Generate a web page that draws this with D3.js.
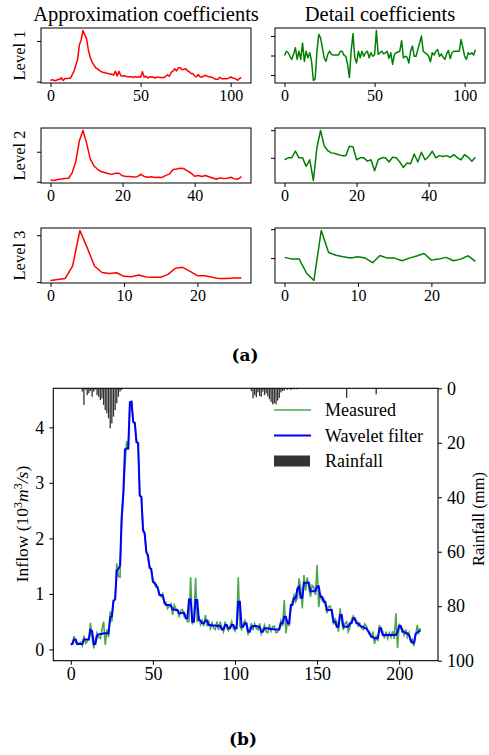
<!DOCTYPE html>
<html>
<head>
<meta charset="utf-8">
<script src="https://cdn.jsdelivr.net/npm/d3@7"></script>
<style>
  body { margin: 0; background: #fff; }
  svg text { font-family: "Liberation Serif", "Times New Roman", serif; }
</style>
</head>
<body>
<script>
// ---- (a) wavelet coefficients ----
const approx1 = [0.14,0.25,0.14,0.14,0.25,0.25,0.48,0.14,0.37,0.40,
  0.41,0.41,0.83,1.26,2.02,2.69,4.52,5.12,6.29,5.78,
  5.26,3.90,3.00,2.43,2.06,1.71,1.60,1.39,1.27,1.13,
  1.13,1.02,1.00,0.92,0.93,0.79,1.27,0.71,1.26,0.74,
  0.66,0.74,0.62,0.61,0.61,0.59,0.51,0.62,0.54,0.62,
  0.54,1.22,0.58,0.66,0.45,0.58,0.59,0.58,0.45,0.54,
  0.54,0.52,0.51,0.51,0.66,0.83,0.66,1.13,1.30,1.58,
  1.32,1.70,1.70,1.48,1.48,1.61,1.34,1.22,1.00,1.00,
  0.71,0.58,0.88,0.58,0.58,0.66,0.79,0.66,0.59,0.57,
  0.51,0.35,0.28,0.28,0.54,0.37,0.37,0.37,0.37,0.42,
  0.59,0.45,0.41,0.31,0.17,0.41,0.48];
const approx2 = [0.28,0.20,0.36,0.44,0.54,0.58,1.48,3.33,6.82,8.54,
  6.48,3.84,2.67,2.11,1.70,1.52,1.36,1.22,1.40,1.41,
  0.99,0.87,0.85,0.80,0.82,1.24,0.88,0.73,0.83,0.70,
  0.75,0.72,1.06,1.27,2.04,2.13,2.25,2.19,1.81,1.42,
  0.91,1.03,0.88,1.03,0.82,0.61,0.40,0.64,0.52,0.56,
  0.74,0.51,0.41,0.85];
const approx3 = [0.34,0.57,0.79,3.40,11.0,7.30,3.38,2.04,1.85,1.99,1.22,1.15,1.50,1.10,
  1.03,1.04,1.65,2.95,3.14,2.28,1.37,1.35,1.01,0.74,0.76,0.88,0.89];
const detail1 = [0.00,0.11,0.07,-0.02,-0.10,0.03,0.20,-0.10,0.11,-0.10,
  0.32,-0.15,0.11,-0.06,0.07,-0.15,-0.64,-0.60,0.11,0.54,
  0.45,0.20,-0.06,-0.15,0.03,0.11,0.03,0.01,0.01,0.01,
  0.01,0.11,0.11,0.01,-0.02,-0.23,-0.56,0.11,0.56,-0.06,
  -0.19,0.11,-0.06,0.11,-0.02,0.07,0.11,-0.06,0.07,-0.02,
  0.02,0.64,0.03,0.07,0.11,0.04,0.07,0.11,-0.08,0.07,
  -0.23,0.03,0.07,0.09,0.11,0.38,-0.06,-0.02,-0.04,-0.19,
  0.11,0.24,-0.02,-0.02,0.15,0.32,0.50,0.11,0.07,0.04,
  -0.02,-0.16,0.07,0.01,0.11,0.15,-0.02,0.04,-0.04,-0.10,
  0.04,0.13,-0.08,0.07,0.11,0.11,0.11,0.11,0.41,0.20,
  -0.02,-0.10,0.07,0.03,0.07,0.01,0.15];
const detail2 = [-0.07,0.00,0.00,0.24,0.00,0.00,-0.31,-0.07,-0.82,0.38,
  0.99,0.44,0.26,0.18,0.16,0.11,0.08,0.08,0.42,0.40,
  -0.07,0.00,0.00,-0.12,-0.07,-0.47,-0.07,0.00,0.00,-0.15,
  0.02,0.00,-0.15,-0.35,-0.19,-0.21,0.14,-0.15,0.20,-0.07,
  0.05,0.24,0.00,0.08,0.05,0.08,0.02,0.12,0.00,-0.07,
  0.12,0.02,-0.12,0.02];
const detail3 = [0.05,-0.07,-0.07,-1.05,-1.55,1.91,0.39,0.20,0.09,0.00,0.09,0.00,-0.32,0.18,
  0.00,0.00,-0.18,0.00,0.14,0.32,-0.14,-0.07,0.05,-0.18,-0.07,0.16,-0.23];

const levelNames = ["Level 1", "Level 2", "Level 3"];
const levelXTicks = [[0, 50, 100], [0, 20, 40], [0, 10, 20]];
const approxYTicks = [[0, 5], [0, 5], [0, 10]];
const detailYTicks = [[-0.5, 0, 0.5], [-1, 0, 1], [-2, 0, 2]];

// ---- (b) inflow (10^3 m3/s) and rainfall (mm) per day ----
const measured = [0.08,0.12,0.24,0.12,0.09,0.11,0.13,0.07,0.25,0.11,
  0.14,0.22,0.48,0.20,0.02,0.18,0.30,0.22,0.20,0.36,
  0.50,0.08,0.36,0.22,0.68,0.50,0.86,0.92,1.55,1.31,
  1.30,2.45,2.75,3.30,3.75,3.60,4.40,4.48,4.10,4.05,
  3.78,3.68,2.80,2.72,2.20,2.05,1.78,1.63,1.50,1.42,
  1.26,1.17,1.12,1.13,1.00,0.95,1.00,0.82,0.85,0.74,
  0.78,0.82,0.62,0.80,0.74,0.68,0.60,0.70,0.72,0.60,
  0.62,0.50,0.50,1.30,0.45,0.55,1.29,0.49,0.60,0.45,
  0.52,0.42,0.62,0.42,0.50,0.38,0.48,0.38,0.36,0.50,
  0.35,0.50,0.40,0.32,0.50,0.38,0.34,0.42,0.50,0.38,
  0.33,0.43,1.30,0.42,0.36,0.46,0.52,0.42,0.28,0.36,
  0.47,0.35,0.46,0.38,0.35,0.47,0.28,0.36,0.44,0.32,
  0.30,0.45,0.33,0.41,0.42,0.30,0.31,0.41,0.52,0.42,
  0.89,0.29,0.52,0.42,0.72,0.88,0.98,0.86,0.92,1.28,
  1.12,0.74,1.34,1.06,1.30,1.10,0.95,1.15,1.12,0.98,
  1.52,0.76,1.00,0.90,0.92,0.80,0.65,0.77,0.78,0.64,
  0.45,0.55,0.50,0.32,0.74,0.50,0.35,0.47,0.50,0.32,
  0.40,0.54,0.60,0.52,0.52,0.42,0.47,0.39,0.36,0.46,
  0.42,0.34,0.32,0.24,0.30,0.10,0.25,0.15,0.44,0.32,
  0.32,0.20,0.32,0.20,0.30,0.22,0.33,0.19,0.65,0.02,
  0.46,0.38,0.38,0.26,0.36,0.22,0.30,0.14,0.18,0.06,
  0.24,0.44,0.30,0.38];
const filtered = [0.10,0.10,0.18,0.18,0.10,0.10,0.10,0.10,0.18,0.18,
  0.18,0.18,0.35,0.33,0.10,0.10,0.25,0.27,0.28,0.28,
  0.29,0.29,0.29,0.29,0.58,0.60,0.88,0.90,1.42,1.45,
  1.51,2.35,2.82,3.60,3.62,3.62,4.45,4.46,4.10,4.08,
  3.73,3.72,2.77,2.75,2.14,2.10,1.75,1.70,1.47,1.45,
  1.22,1.20,1.16,1.10,0.98,0.98,0.97,0.85,0.80,0.80,
  0.80,0.79,0.72,0.72,0.71,0.71,0.65,0.65,0.66,0.66,
  0.56,0.56,0.90,0.90,0.50,0.50,0.89,0.89,0.53,0.52,
  0.47,0.47,0.52,0.52,0.44,0.44,0.43,0.43,0.43,0.42,
  0.43,0.42,0.36,0.36,0.44,0.44,0.38,0.38,0.44,0.44,
  0.38,0.38,0.86,0.86,0.41,0.41,0.47,0.47,0.32,0.32,
  0.40,0.42,0.42,0.42,0.41,0.41,0.32,0.32,0.38,0.38,
  0.38,0.37,0.37,0.37,0.36,0.36,0.36,0.36,0.47,0.47,
  0.59,0.59,0.47,0.47,0.80,0.80,0.92,0.92,1.10,1.13,
  0.93,0.93,1.20,1.20,1.20,1.20,1.05,1.05,1.05,1.05,
  1.14,1.14,0.95,0.95,0.86,0.86,0.71,0.71,0.71,0.71,
  0.50,0.50,0.41,0.41,0.62,0.62,0.41,0.41,0.41,0.41,
  0.47,0.47,0.56,0.56,0.47,0.47,0.43,0.41,0.41,0.38,
  0.38,0.33,0.28,0.23,0.22,0.20,0.20,0.20,0.38,0.38,
  0.26,0.26,0.26,0.26,0.26,0.26,0.26,0.26,0.26,0.32,
  0.42,0.42,0.32,0.32,0.29,0.29,0.26,0.17,0.12,0.12,
  0.28,0.30,0.33,0.34];
const rainDay = [7,8,9,10,11,12,13,14,15,16,17,18,19,20,21,22,23,24,25,26,27,28,29,30,31,
  110,111,112,113,114,115,116,117,118,119,120,121,122,123,124,125,126,127,128,129,130,132,134,136,138,
  168,186];
const rainMM = [1.2,6.1,0.5,2.5,1.8,1.0,3.1,1.2,0.5,2.5,3.1,4.3,3.7,6.1,8.0,9.2,11.0,14.7,12.9,10.4,8.0,5.5,3.1,1.2,0.6,
  1.0,3.7,2.5,3.3,1.5,2.8,3.1,1.2,2.5,1.8,3.0,4.0,5.0,5.9,5.5,5.9,4.5,3.5,1.5,1.0,0.8,0.6,0.6,0.4,0.4,
  3.5,2.2];

const dayTicks = [0, 50, 100, 150, 200];
const inflowTicks = [0, 1, 2, 3, 4];
const rainTicks = [0, 20, 40, 60, 80, 100];
const legendNames = ["Measured", "Wavelet filter", "Rainfall"];

const serif = '"Liberation Serif", "Times New Roman", serif';

let svg = d3.select("body").append("svg")
  .attr("width", 489)
  .attr("height", 755)
  .style("background-color", "#fff");

function inside(ticks, scale) {
  let [a, b] = scale.domain();
  return ticks.filter(t => t >= Math.min(a, b) && t <= Math.max(a, b));
}

// axis helper: no domain line, serif labels
function styleAxis(g, size) {
  g.select(".domain").remove();
  g.selectAll("text").style("font-family", serif).style("font-size", size + "px");
  return g;
}

// one small coefficient plot, matplotlib style (5% margins)
function panel(data, left, top, color, xTicks, yTicks) {
  let w = 210, h = 55, n = data.length;
  let x = d3.scaleLinear().domain([-0.05 * (n - 1), 1.05 * (n - 1)]).range([left, left + w]);
  let ext = d3.extent(data), pad = 0.05 * (ext[1] - ext[0]);
  let y = d3.scaleLinear().domain([ext[0] - pad, ext[1] + pad]).range([top + h, top]);

  svg.append("path")
    .datum(data)
    .attr("d", d3.line().x((d, i) => x(i)).y(d => y(d)))
    .attr("fill", "none")
    .attr("stroke", color)
    .attr("stroke-width", 1.5)
    .attr("stroke-linejoin", "round");

  svg.append("rect")
    .attr("x", left).attr("y", top).attr("width", w).attr("height", h)
    .attr("fill", "none").attr("stroke", "#000").attr("stroke-width", 1);

  let gx = svg.append("g")
    .attr("transform", `translate(0,${top + h})`)
    .call(d3.axisBottom(x).tickValues(inside(xTicks, x)).tickSize(4).tickPadding(3).tickFormat(d3.format("d")));
  styleAxis(gx, 16);

  let gy = svg.append("g")
    .attr("transform", `translate(${left},0)`)
    .call(d3.axisLeft(y).tickValues(inside(yTicks, y)).tickSize(4).tickFormat(""));
  styleAxis(gy, 16);
}

let approx = [approx1, approx2, approx3];
let detail = [detail1, detail2, detail3];
levelNames.forEach((name, k) => {
  let top = 28 + 100 * k;
  panel(approx[k], 41, top, "#ff0000", levelXTicks[k], approxYTicks[k]);
  panel(detail[k], 275, top, "#008000", levelXTicks[k], detailYTicks[k]);
  svg.append("text")
    .attr("transform", `translate(25,${top + 27.5}) rotate(-90)`)
    .attr("text-anchor", "middle")
    .attr("font-size", 16.5)
    .text(name);
});

svg.append("text").attr("x", 146).attr("y", 21).attr("text-anchor", "middle")
  .attr("font-size", 20.5).text("Approximation coefficients");
svg.append("text").attr("x", 380).attr("y", 21).attr("text-anchor", "middle")
  .attr("font-size", 20.5).text("Detail coefficients");

svg.append("text").attr("x", 245).attr("y", 361).attr("text-anchor", "middle")
  .attr("font-size", 17).attr("font-weight", "bold")
  .style("font-family", '"DejaVu Serif", serif').text("(a)");

// ---- (b) ----
let bx0 = 53.3, bx1 = 438, by0 = 388.3, by1 = 660.7;
let N = measured.length;
let xb = d3.scaleLinear().domain([-0.05 * (N - 1), 1.05 * (N - 1)]).range([bx0, bx1]);
let ext = d3.extent(measured), pad = 0.05 * (ext[1] - ext[0]);
let yb = d3.scaleLinear().domain([ext[0] - pad, ext[1] + pad]).range([by1, by0]);
let yr = d3.scaleLinear().domain([0, 100]).range([by0, by1]);

svg.append("path")
  .datum(measured)
  .attr("d", d3.line().x((d, i) => xb(i)).y(d => yb(d)))
  .attr("fill", "none")
  .attr("stroke", "#008000")
  .attr("stroke-opacity", 0.7)
  .attr("stroke-width", 1.6);

svg.append("path")
  .datum(filtered)
  .attr("d", d3.line().x((d, i) => xb(i)).y(d => yb(d)))
  .attr("fill", "none")
  .attr("stroke", "#0000ff")
  .attr("stroke-width", 2);

svg.selectAll()
  .data(rainDay)
  .enter()
    .append("rect")
      .attr("x", d => xb(d - 0.4))
      .attr("y", by0)
      .attr("width", xb(0.8) - xb(0))
      .attr("height", (d, i) => yr(rainMM[i]) - by0)
      .attr("fill", "#333");

svg.append("rect")
  .attr("x", bx0).attr("y", by0).attr("width", bx1 - bx0).attr("height", by1 - by0)
  .attr("fill", "none").attr("stroke", "#000").attr("stroke-width", 1.1);

let gbx = svg.append("g")
  .attr("transform", `translate(0,${by1})`)
  .call(d3.axisBottom(xb).tickValues(dayTicks).tickSize(4).tickPadding(3).tickFormat(d3.format("d")));
styleAxis(gbx, 18);

let gby = svg.append("g")
  .attr("transform", `translate(${bx0},0)`)
  .call(d3.axisLeft(yb).tickValues(inflowTicks).tickSize(4).tickPadding(5).tickFormat(d3.format("d")));
styleAxis(gby, 18);

let gbr = svg.append("g")
  .attr("transform", `translate(${bx1},0)`)
  .call(d3.axisRight(yr).tickValues(rainTicks).tickSize(4).tickPadding(5).tickFormat(d3.format("d")));
styleAxis(gbr, 18);

let yl = svg.append("text")
  .attr("transform", "translate(28,524) rotate(-90)")
  .attr("text-anchor", "middle")
  .attr("font-size", 17.5);
yl.append("tspan").text("Inflow (10");
yl.append("tspan").attr("dy", -6).attr("font-size", 12).text("3");
yl.append("tspan").attr("dy", 6).attr("font-style", "italic").text("m");
yl.append("tspan").attr("dy", -6).attr("font-size", 12).text("3");
yl.append("tspan").attr("dy", 6).attr("font-style", "italic").text("/s");
yl.append("tspan").text(")");

svg.append("text")
  .attr("transform", "translate(484,519) rotate(-90)")
  .attr("text-anchor", "middle")
  .attr("font-size", 16.5)
  .text("Rainfall (mm)");

// legend, no frame
let legendStyle = [
  { stroke: "#008000", opacity: 0.7 },
  { stroke: "#0000ff", opacity: 1 },
  { fill: "#333" }
];
legendNames.forEach((name, i) => {
  let cy = 410 + 25.5 * i;
  if (legendStyle[i].fill) {
    svg.append("rect").attr("x", 274).attr("y", cy - 5.5).attr("width", 36).attr("height", 11)
      .attr("fill", legendStyle[i].fill);
  } else {
    svg.append("line").attr("x1", 274).attr("x2", 311).attr("y1", cy).attr("y2", cy)
      .attr("stroke", legendStyle[i].stroke).attr("stroke-opacity", legendStyle[i].opacity)
      .attr("stroke-width", i === 0 ? 1.6 : 2);
  }
  svg.append("text").attr("x", 325).attr("y", cy + 6).attr("font-size", 18).text(name);
});

svg.append("text").attr("x", 243).attr("y", 745).attr("text-anchor", "middle")
  .attr("font-size", 17).attr("font-weight", "bold")
  .style("font-family", '"DejaVu Serif", serif').text("(b)");
</script>
</body>
</html>
